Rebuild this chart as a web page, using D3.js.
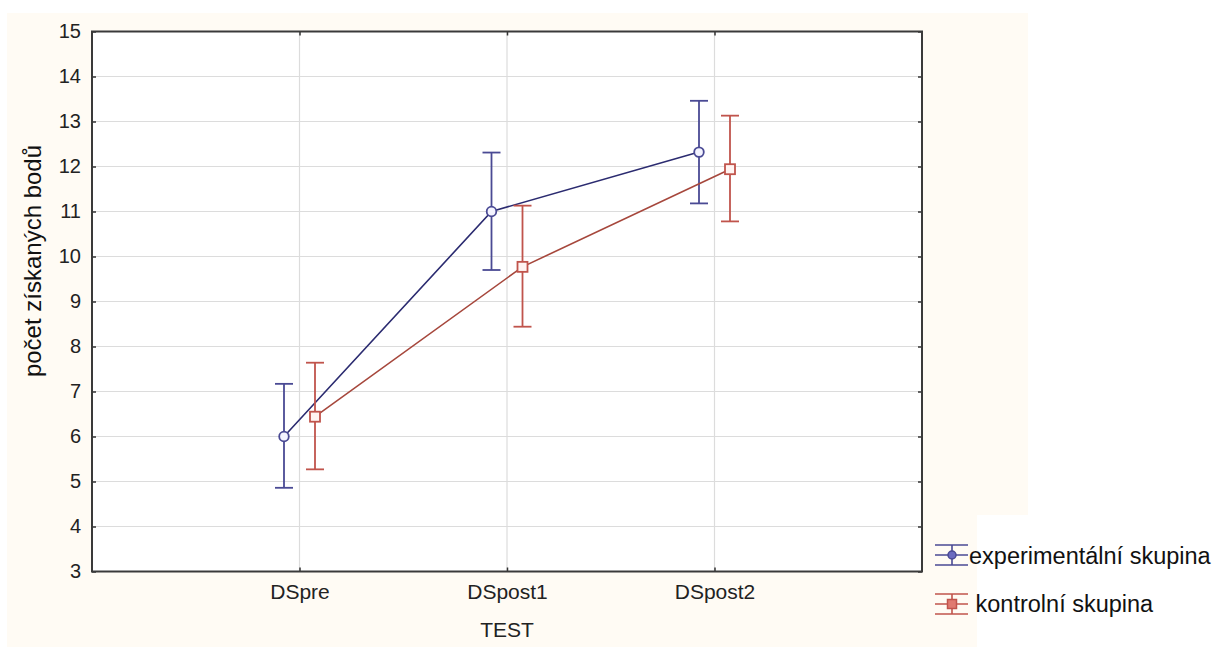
<!DOCTYPE html>
<html><head><meta charset="utf-8">
<script src="https://cdn.jsdelivr.net/npm/d3@7"></script>
<style>body{margin:0;background:#fff;}svg{display:block;font-family:"Liberation Sans",Arial,sans-serif;}</style>
</head><body>
<svg id="c" width="1217" height="648"></svg>
<script>
const categories = ["DSpre", "DSpost1", "DSpost2"];
const yTicks = [3,4,5,6,7,8,9,10,11,12,13,14,15];
const expMean = [6.0, 11.0, 12.32];
const expLow  = [4.86, 9.70, 11.18];
const expHigh = [7.17, 12.31, 13.46];
const konMean = [6.44, 9.77, 11.94];
const konLow  = [5.27, 8.44, 10.78];
const konHigh = [7.64, 11.13, 13.13];
const seriesNames = ["experimentální skupina", " kontrolní skupina"];

const svg = d3.select("#c");
const L = 92, R = 922, T = 31.5, B = 571.5;

svg.append("rect").attr("x",7).attr("y",13).attr("width",1021).attr("height",634).attr("fill","#fffbf4");
svg.append("rect").attr("x",977).attr("y",515).attr("width",60).attr("height",133).attr("fill","#ffffff");
svg.append("rect").attr("x",L).attr("y",T).attr("width",R-L).attr("height",B-T).attr("fill","#ffffff");

const x = d3.scalePoint().domain(categories).range([L, R]).padding(1);
const y = d3.scaleLinear().domain([3, 15]).range([B, T]);

// grid
svg.append("g").selectAll("line").data(yTicks.slice(1,-1)).join("line")
  .attr("x1",L).attr("x2",R).attr("y1",d=>y(d)).attr("y2",d=>y(d))
  .attr("stroke","#dcdcdc").attr("stroke-width",1.2);
svg.append("g").selectAll("line").data(categories).join("line")
  .attr("x1",d=>x(d)).attr("x2",d=>x(d)).attr("y1",T).attr("y2",B)
  .attr("stroke","#dcdcdc").attr("stroke-width",1.2);

// axes
const yAxisL = d3.axisLeft(y).tickValues(yTicks).tickSize(-4).tickPadding(11);
const gy = svg.append("g").attr("transform",`translate(${L},0)`).call(yAxisL);
gy.select(".domain").remove();
gy.selectAll("line").attr("stroke","#333").attr("stroke-width",1.5);
gy.selectAll("text").attr("font-size","20px").attr("fill","#222");

const gyr = svg.append("g").attr("transform",`translate(${R},0)`).call(d3.axisRight(y).tickValues(yTicks).tickSize(-4).tickFormat(""));
gyr.select(".domain").remove();
gyr.selectAll("line").attr("stroke","#333").attr("stroke-width",1.5);

const gx = svg.append("g").attr("transform",`translate(0,${B})`).call(d3.axisBottom(x).tickSize(-4).tickPadding(13));
gx.select(".domain").remove();
gx.selectAll("line").attr("stroke","#333").attr("stroke-width",1.5);
gx.selectAll("text").attr("font-size","21px").attr("fill","#222");

const gxt = svg.append("g").attr("transform",`translate(0,${T})`).call(d3.axisTop(x).tickSize(-4).tickFormat(""));
gxt.select(".domain").remove();
gxt.selectAll("line").attr("stroke","#333").attr("stroke-width",1.5);

// frame
svg.append("rect").attr("x",L).attr("y",T).attr("width",R-L).attr("height",B-T)
  .attr("fill","none").attr("stroke","#3a3a3a").attr("stroke-width",2);

// labels
svg.append("text").attr("transform",`translate(41,261) rotate(-90)`)
  .attr("text-anchor","middle").attr("font-size","24px").attr("fill","#111").text("počet získaných bodů");
svg.append("text").attr("x",x("DSpost1")).attr("y",637).attr("text-anchor","middle")
  .attr("font-size","21px").attr("fill","#222").text("TEST");

const series = [
  {mean: expMean, low: expLow, high: expHigh, off: -15.5, line:"#2b2b70", bar:"#4a4a94", marker:"circle"},
  {mean: konMean, low: konLow, high: konHigh, off: 15.5, line:"#a6473c", bar:"#c0544c", marker:"square"}
];
const cap = 9;
series.forEach(s => {
  const pts = categories.map((c,i)=>({c, m:s.mean[i], lo:s.low[i], hi:s.high[i]}));
  const px = d => x(d.c) + s.off;
  const g = svg.append("g");
  g.append("path").datum(pts).attr("fill","none").attr("stroke",s.line).attr("stroke-width",1.6)
    .attr("d", d3.line().x(px).y(d=>y(d.m)));
  g.selectAll(".v").data(pts).join("line").attr("x1",px).attr("x2",px)
    .attr("y1",d=>y(d.lo)).attr("y2",d=>y(d.hi)).attr("stroke",s.bar).attr("stroke-width",1.8);
  g.selectAll(".t").data(pts).join("line").attr("x1",d=>px(d)-cap).attr("x2",d=>px(d)+cap)
    .attr("y1",d=>y(d.hi)).attr("y2",d=>y(d.hi)).attr("stroke",s.bar).attr("stroke-width",1.8);
  g.selectAll(".b").data(pts).join("line").attr("x1",d=>px(d)-cap).attr("x2",d=>px(d)+cap)
    .attr("y1",d=>y(d.lo)).attr("y2",d=>y(d.lo)).attr("stroke",s.bar).attr("stroke-width",1.8);
  if (s.marker === "circle") {
    g.selectAll("circle").data(pts).join("circle").attr("cx",px).attr("cy",d=>y(d.m)).attr("r",4.8)
      .attr("fill","#f4f4ff").attr("stroke",s.bar).attr("stroke-width",1.8);
  } else {
    g.selectAll("rect").data(pts).join("rect").attr("x",d=>px(d)-5).attr("y",d=>y(d.m)-5)
      .attr("width",10).attr("height",10).attr("fill","#fff4f2").attr("stroke",s.bar).attr("stroke-width",1.8);
  }
});

// legend
const leg = [{y:555, tb:564}, {y:604, tb:612}];
series.forEach((s,i) => {
  const cx = 952, cy = leg[i].y;
  const g = svg.append("g");
  [-10, 0, 10].forEach(dy => g.append("line").attr("x1",935).attr("x2",968)
    .attr("y1",cy+dy).attr("y2",cy+dy).attr("stroke",s.bar).attr("stroke-width",1.6));
  g.append("line").attr("x1",cx).attr("x2",cx).attr("y1",cy-10).attr("y2",cy+10).attr("stroke",s.bar).attr("stroke-width",1.6);
  if (s.marker === "circle") g.append("circle").attr("cx",cx).attr("cy",cy).attr("r",4).attr("fill","#6a6ac0").attr("stroke",s.bar).attr("stroke-width",1.5);
  else g.append("rect").attr("x",cx-4.5).attr("y",cy-4.5).attr("width",9).attr("height",9).attr("fill","#e07a70").attr("stroke",s.bar).attr("stroke-width",1.5);
  svg.append("text").attr("x",969).attr("y",leg[i].tb).attr("font-size","23.5px").attr("fill","#111")
    .attr("xml:space","preserve").style("white-space","pre").text(seriesNames[i]);
});
</script>
</body></html>
